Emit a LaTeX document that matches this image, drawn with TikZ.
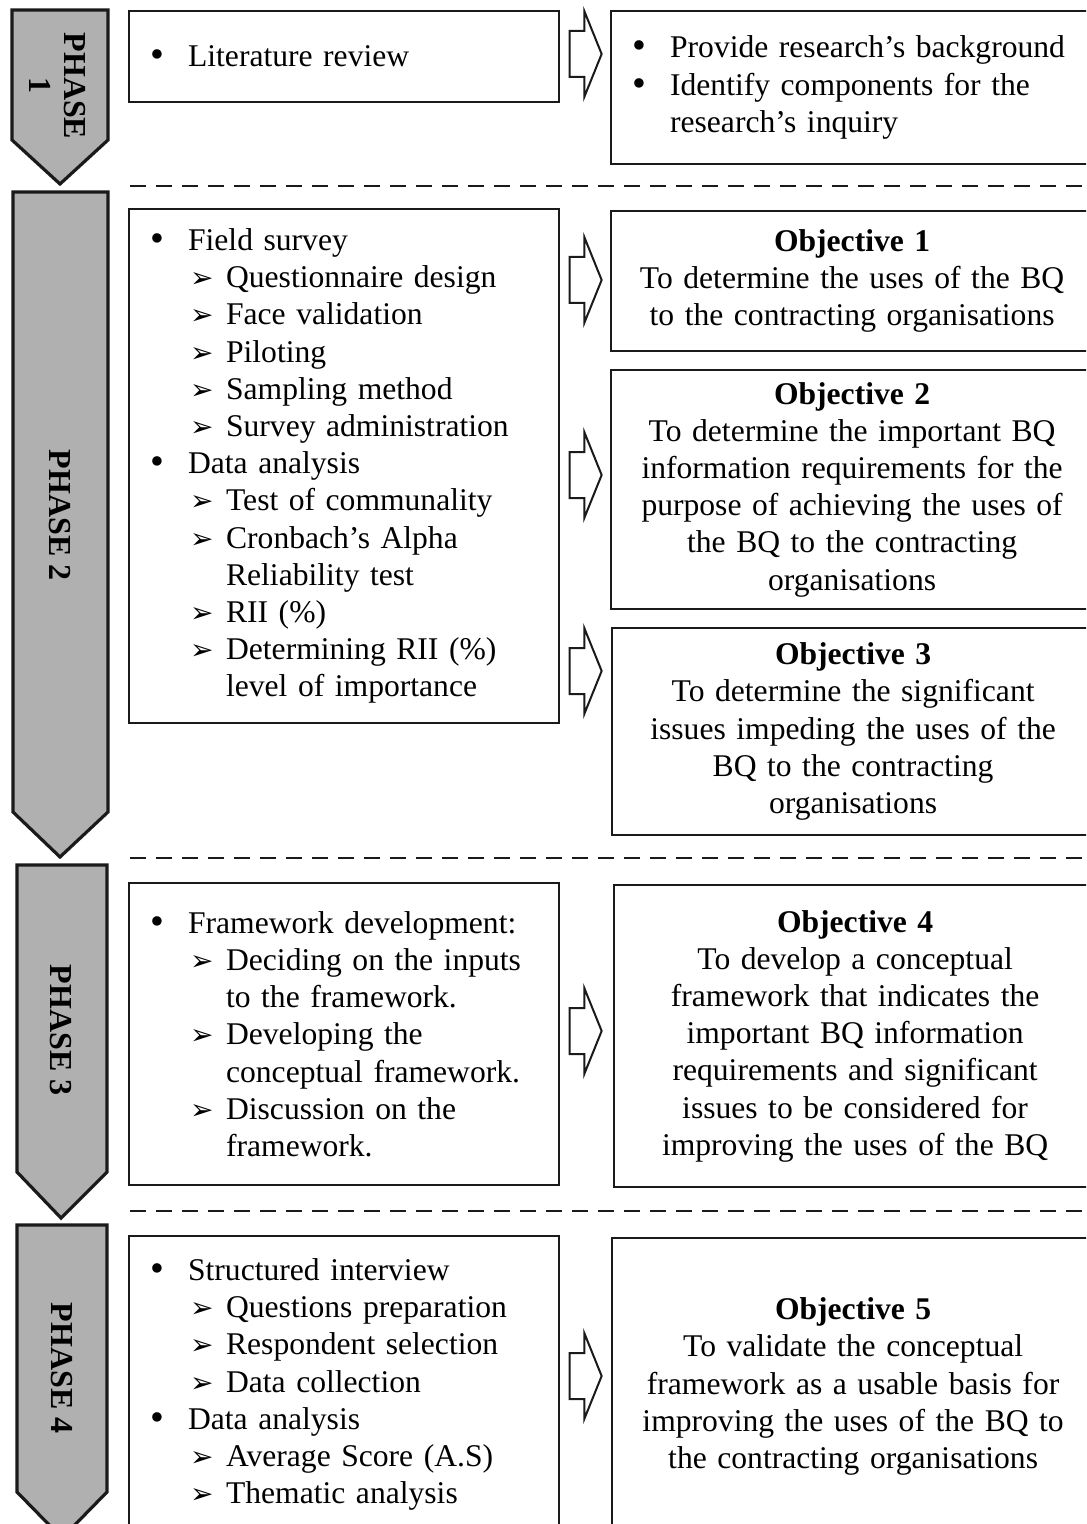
\documentclass[tikz,border=0pt]{standalone}
\usepackage{fontspec}
\usepackage{graphicx}
\setmainfont{Liberation Serif}
\newfontfamily\symfont{DejaVu Sans}
\usetikzlibrary{positioning,shapes.arrows}
\definecolor{cPhase}{HTML}{B0B0B0}
\definecolor{cLine}{HTML}{1A1A1A}
% list helpers
\newcommand{\itm}{\hspace*{10.5pt}\makebox[19pt][l]{\raisebox{-0.5pt}{\scalebox{1.25}{\textbullet}}}}
\newcommand{\sub}{\hspace*{30.5pt}\makebox[18pt][l]{\symfont\fontsize{14}{14}\selectfont ➢}}
\newcommand{\cnt}{\hspace*{48.5pt}}
\newcommand{\rcnt}{\hspace*{29.5pt}}
\tikzset{
  phase/.style={draw=cLine, line width=1.6pt, fill=cPhase},
  phaselbl/.style={font=\fontsize{16}{17.5}\selectfont\bfseries, rotate=-90, align=center, inner sep=0pt},
  task/.style={draw=cLine, line width=1.1pt, anchor=north west, minimum width=215pt,
               text width=215pt, align=left, inner xsep=0pt},
  goal/.style={draw=cLine, line width=1.1pt, anchor=north west, minimum width=241pt,
               text width=241pt, align=center, inner xsep=0pt},
  hollow/.style={single arrow, draw=cLine, line width=1pt, fill=white, inner xsep=0pt,
                 inner ysep=11pt, minimum height=16pt, single arrow head extend=10pt,
                 single arrow tip angle=136},
  sep/.style={dash pattern=on 8pt off 5pt, line width=1.2pt, draw=cLine},
}
\begin{document}
\begin{tikzpicture}[x=0.5pt,y=-0.5pt,font=\fontsize{15.8}{18.6}\selectfont]
  \useasboundingbox (0,0) rectangle (1086,1524);
  \clip (0,0) rectangle (1086,1524);
  % phases
  \draw[phase] (12,10) -- (108,10) -- (108,140) -- (60,184) -- (12,140) -- cycle;
  \node[phaselbl] (ph1) at (58,86) {PHASE\\1};
  \draw[phase] (13,192) -- (108,192) -- (108,812) -- (60,857) -- (13,812) -- cycle;
  \node[phaselbl] (ph2) at (60,515) {PHASE 2};
  \draw[phase] (17,865) -- (107,865) -- (107,1172) -- (61,1218) -- (17,1172) -- cycle;
  \node[phaselbl] (ph3) at (61,1030) {PHASE 3};
  \draw[phase] (17,1225) -- (107,1225) -- (107,1492) -- (62,1538) -- (17,1492) -- cycle;
  \node[phaselbl] (ph4) at (62,1368) {PHASE 4};
  % phase 1
  \node[task, minimum height=45.5pt] (lit) at (128,10) {\itm Literature review};
  \node[goal, align=left, minimum height=76.5pt] (bg) at (610,10)
    {\itm Provide research’s background\\\itm Identify components for the\\\rcnt research’s inquiry};
  \node[hollow] (a1) at (581,54) {};
  \draw[sep] (130,186) -- (1086,186);
  % phase 2
  \node[task, minimum height=257pt] (survey) at (128,208)
    {\itm Field survey\\\sub Questionnaire design\\\sub Face validation\\\sub Piloting\\
     \sub Sampling method\\\sub Survey administration\\\itm Data analysis\\
     \sub Test of communality\\\sub Cronbach’s Alpha\\\cnt Reliability test\\\sub RII (\%)\\
     \sub Determining RII (\%)\\\cnt level of importance};
  \node[goal, minimum height=70pt] (obj1) at (610,210)
    {\textbf{Objective 1}\\To determine the uses of the BQ\\to the contracting organisations};
  \node[goal, minimum height=119.5pt] (obj2) at (610,369)
    {\textbf{Objective 2}\\To determine the important BQ\\information requirements for the\\
     purpose of achieving the uses of\\the BQ to the contracting\\organisations};
  \node[goal, minimum height=103.5pt] (obj3) at (611,627)
    {\textbf{Objective 3}\\To determine the significant\\issues impeding the uses of the\\
     BQ to the contracting\\organisations};
  \node[hollow] (a2) at (581,280) {};
  \node[hollow] (a3) at (581,475) {};
  \node[hollow] (a4) at (581,671) {};
  \draw[sep] (130,858) -- (1086,858);
  % phase 3
  \node[task, minimum height=151pt] (frame) at (128,882)
    {\itm Framework development:\\\sub Deciding on the inputs\\\cnt to the framework.\\
     \sub Developing the\\\cnt conceptual framework.\\\sub Discussion on the\\\cnt framework.};
  \node[goal, minimum height=151pt] (obj4) at (613,884)
    {\textbf{Objective 4}\\To develop a conceptual\\framework that indicates the\\
     important BQ information\\requirements and significant\\issues to be considered for\\
     improving the uses of the BQ};
  \node[hollow] (a5) at (581,1031) {};
  \draw[sep] (130,1211) -- (1086,1211);
  % phase 4
  \node[task, minimum height=148.5pt] (interv) at (128,1235)
    {\itm Structured interview\\\sub Questions preparation\\\sub Respondent selection\\
     \sub Data collection\\\itm Data analysis\\\sub Average Score (A.S)\\\sub Thematic analysis};
  \node[goal, minimum height=148.5pt] (obj5) at (611,1237)
    {\textbf{Objective 5}\\To validate the conceptual\\framework as a usable basis for\\
     improving the uses of the BQ to\\the contracting organisations};
  \node[hollow] (a6) at (581,1376) {};
\end{tikzpicture}
\end{document}
